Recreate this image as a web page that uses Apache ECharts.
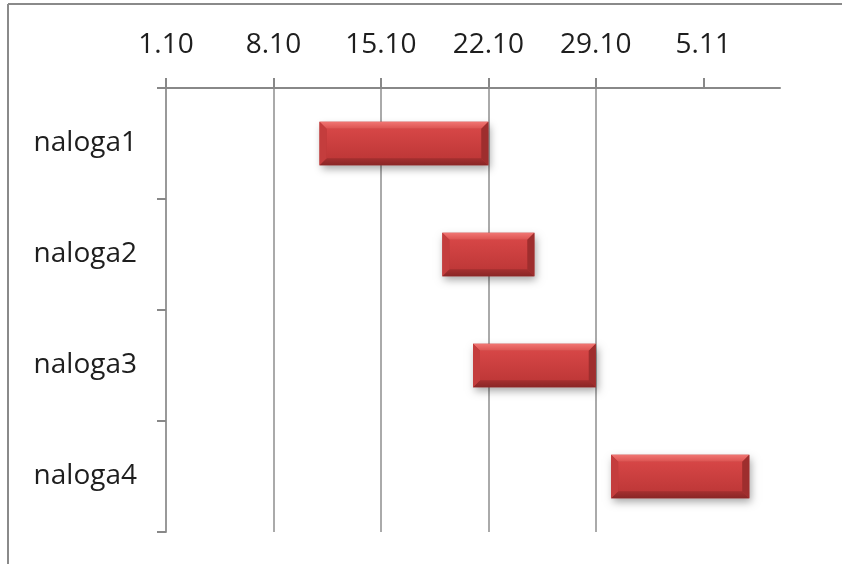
<!DOCTYPE html>
<html>
<head>
<meta charset="utf-8">
<script src="https://cdn.jsdelivr.net/npm/echarts@6/dist/echarts.min.js"></script>
<style>html,body{margin:0;padding:0;background:#fff;}#c{width:842px;height:564px;}</style>
</head>
<body>
<div id="c"></div>
<script>
var categories = ['naloga1', 'naloga2', 'naloga3', 'naloga4'];
// days counted from 1.10
var startDays = [10, 18, 20, 29];
var endDays = [21, 24, 28, 38];
var tickValues = [0, 7, 14, 21, 28, 35];
var tickLabels = ['1.10', '8.10', '15.10', '22.10', '29.10', '5.11'];
var axisMax = 40;

var seriesData = categories.map(function (c, i) { return [i, startDays[i], endDays[i]]; });

function renderItem(params, api) {
  var cat = api.value(0);
  var s = api.coord([api.value(1), cat]);
  var e = api.coord([api.value(2), cat]);
  var h = api.size([0, 1])[1] * 0.39;
  var x0 = s[0], x1 = e[0], y0 = s[1] - h / 2, y1 = s[1] + h / 2;
  var b = 7;
  return {
    type: 'group',
    children: [
      { type: 'rect', shape: { x: x0, y: y0, width: x1 - x0, height: h },
        style: { fill: '#b83535', shadowBlur: 8, shadowOffsetX: 2, shadowOffsetY: 4, shadowColor: 'rgba(0,0,0,0.35)' } },
      { type: 'rect', shape: { x: x0 + b, y: y0 + b, width: x1 - x0 - 2 * b, height: h - 2 * b },
        style: { fill: { type: 'linear', x: 0, y: 0, x2: 0, y2: 1, colorStops: [
          { offset: 0, color: '#d64646' }, { offset: 1, color: '#bf3838' } ] } } },
      { type: 'polygon', shape: { points: [[x0, y0], [x1, y0], [x1 - b, y0 + b], [x0 + b, y0 + b]] },
        style: { fill: { type: 'linear', x: 0, y: 0, x2: 0, y2: 1, colorStops: [
          { offset: 0, color: '#f07572' }, { offset: 1, color: '#dc5250' } ] } } },
      { type: 'polygon', shape: { points: [[x0, y1], [x1, y1], [x1 - b, y1 - b], [x0 + b, y1 - b]] },
        style: { fill: { type: 'linear', x: 0, y: 0, x2: 0, y2: 1, colorStops: [
          { offset: 0, color: '#a53030' }, { offset: 1, color: '#8a2626' } ] } } },
      { type: 'polygon', shape: { points: [[x0, y0], [x0 + b, y0 + b], [x0 + b, y1 - b], [x0, y1]] },
        style: { fill: '#c43d3d' } },
      { type: 'polygon', shape: { points: [[x1, y0], [x1 - b, y0 + b], [x1 - b, y1 - b], [x1, y1]] },
        style: { fill: '#9e2e2e' } }
    ]
  };
}

var chart = echarts.init(document.getElementById('c'), null, { renderer: 'canvas' });
chart.setOption({
  animation: false,
  backgroundColor: '#fff',
  grid: { left: 166, right: 62, top: 88, bottom: 32, containLabel: false },
  xAxis: {
    type: 'value', position: 'top', min: 0, max: axisMax, interval: 7,
    axisLine: { show: true, lineStyle: { color: '#888', width: 2 } },
    axisTick: { show: true, inside: false, length: 10, customValues: tickValues, lineStyle: { color: '#888', width: 2 } },
    axisLabel: { customValues: tickValues, margin: 29, fontSize: 28, color: '#1e1e1e', fontFamily: 'Open Sans',
      formatter: function (v) { var i = tickValues.indexOf(v); return i >= 0 ? tickLabels[i] : ''; } },
    splitLine: { show: true, showMaxLine: false, lineStyle: { color: '#aaa', width: 2 } }
  },
  yAxis: {
    type: 'category', data: categories, inverse: true,
    axisLine: { show: true, lineStyle: { color: '#999', width: 2 } },
    axisTick: { show: true, length: 9, lineStyle: { color: '#888', width: 2 } },
    axisLabel: { margin: 29, fontSize: 28, color: '#1e1e1e', fontFamily: 'Open Sans', padding: [6, 0, 0, 0] },
    splitLine: { show: false }
  },
  graphic: [
    { type: 'line', shape: { x1: 8, y1: 4, x2: 842, y2: 4 }, style: { stroke: '#8a8a8a', lineWidth: 2 }, silent: true },
    { type: 'line', shape: { x1: 8, y1: 4, x2: 8, y2: 564 }, style: { stroke: '#8a8a8a', lineWidth: 2 }, silent: true }
  ],
  series: [{
    type: 'custom', renderItem: renderItem, data: seriesData,
    encode: { x: [1, 2], y: 0 }
  }]
});
</script>
</body>
</html>
